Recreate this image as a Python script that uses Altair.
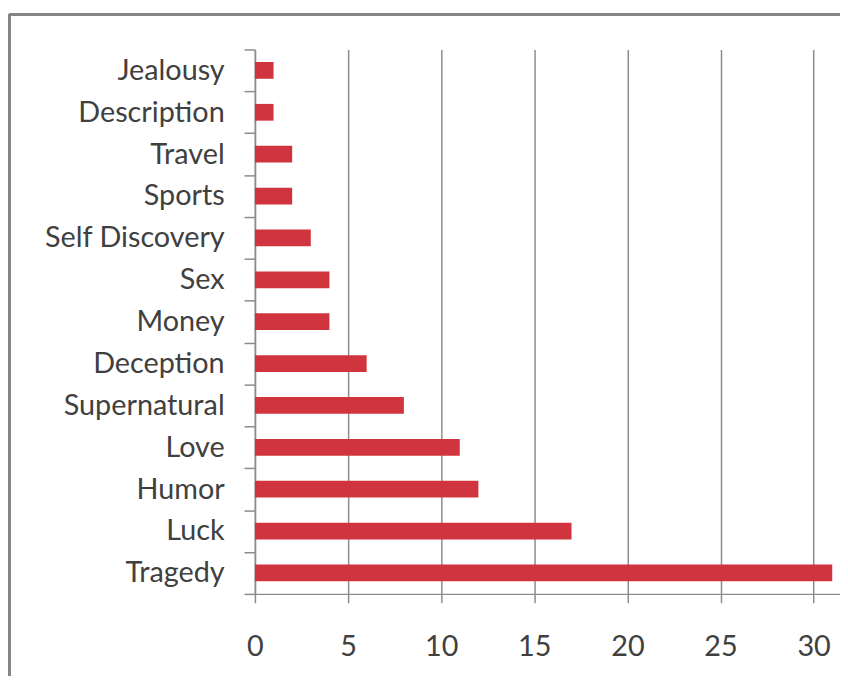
import altair as alt
import pandas as pd

categories = ["Jealousy", "Description", "Travel", "Sports", "Self Discovery", "Sex",
              "Money", "Deception", "Supernatural", "Love", "Humor", "Luck", "Tragedy"]
values = [1, 1, 2, 2, 3, 4, 4, 6, 8, 11, 12, 17, 31]
x_ticks = [0, 5, 10, 15, 20, 25, 30]

df = pd.DataFrame({"theme": categories, "count": values})

W = 590
H = 549
XMAX = W / 18.78

FONT = "Lato"
TXT = "#404040"
GRID = "#8c8c8c"

bars = alt.Chart(df).mark_bar(color="#d0353f", height=alt.RelativeBandSize(0.4)).encode(
    x=alt.X("count:Q",
            scale=alt.Scale(domain=[0, XMAX], nice=False, zero=True),
            axis=alt.Axis(values=x_ticks, title=None, grid=True, gridColor=GRID, gridWidth=1.5,
                          domainColor=GRID, domainWidth=1.5, tickColor=GRID, tickWidth=1.5,
                          tickSize=9, labelPadding=30, labelFont=FONT, labelFontSize=29,
                          labelColor=TXT, labelFlush=False)),
    y=alt.Y("theme:N", sort=categories,
            scale=alt.Scale(paddingInner=0, paddingOuter=0),
            axis=alt.Axis(title=None, tickBand="extent", domainColor=GRID, domainWidth=1.5,
                          tickColor=GRID, tickWidth=1.5, tickSize=11, labelPadding=20,
                          labelFont=FONT, labelFontSize=29, labelColor=TXT, labelLimit=400)),
)

frame_v = alt.Chart(df).mark_rule(color="#858585", strokeWidth=2.5).encode(
    x=alt.value(-248), y=alt.value(-35), y2=alt.value(700)
)
frame_h = alt.Chart(df).mark_rule(color="#858585", strokeWidth=2.5).encode(
    x=alt.value(-248), x2=alt.value(W + 10), y=alt.value(-35)
)

chart = alt.layer(bars, frame_v, frame_h).properties(
    width=W, height=H,
    autosize=alt.AutoSizeParams(type="none"),
    padding={"left": 249, "top": 39, "right": 0, "bottom": 80},
).configure(background="white").configure_view(stroke=None)

chart.save("out.html", embed_options={"renderer": "svg", "actions": False})
